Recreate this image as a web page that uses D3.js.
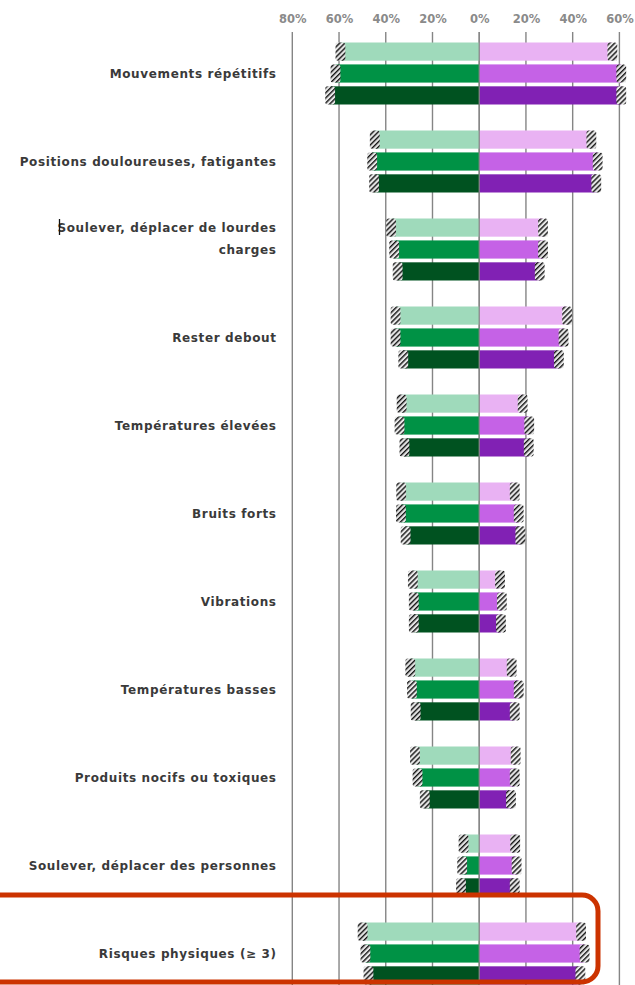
<!DOCTYPE html>
<html><head><meta charset="utf-8">
<script src="https://cdn.jsdelivr.net/npm/d3@7"></script>
<style>body{margin:0;background:#fff;}svg{display:block;}</style>
</head><body>
<svg id="c" width="635" height="985"></svg>
<script>
const categories = [
  ["Mouvements répétitifs"],
  ["Positions douloureuses, fatigantes"],
  ["Soulever, déplacer de lourdes", "charges"],
  ["Rester debout"],
  ["Températures élevées"],
  ["Bruits forts"],
  ["Vibrations"],
  ["Températures basses"],
  ["Produits nocifs ou toxiques"],
  ["Soulever, déplacer des personnes"],
  ["Risques physiques (≥ 3)"]
];
// left side (green) series, in %
const leftLight = [59.4, 44.7, 37.7, 35.8, 33.2, 33.4, 28.4, 29.5, 27.5, 6.7, 49.9];
const leftMid   = [61.5, 45.8, 36.4, 35.8, 34.1, 33.5, 28.0, 28.8, 26.4, 7.3, 48.7];
const leftDark  = [63.8, 45.0, 34.9, 32.5, 32.0, 31.5, 28.0, 27.2, 23.3, 7.8, 47.4];
// right side (purple) series, in %
const rightLight = [57.0, 48.0, 27.3, 37.6, 18.6, 15.2, 8.9, 13.9, 15.6, 15.4, 43.6];
const rightMid   = [60.8, 50.7, 27.3, 36.1, 21.4, 16.9, 9.7, 16.9, 15.2, 16.0, 45.1];
const rightDark  = [60.8, 50.1, 25.9, 34.1, 21.2, 17.6, 9.3, 15.2, 13.6, 15.2, 43.3];
const ciHalf = 2.1; // confidence margin, in %
const tickValues = [-80, -60, -40, -20, 0, 20, 40, 60];
const tickLabels = ["80%", "60%", "40%", "20%", "0%", "20%", "40%", "60%"];

const leftColors = ["#9fdabb", "#009245", "#005220"];
const rightColors = ["#e9b2f3", "#c562e6", "#8121b4"];

const svg = d3.select("#c");
const x = d3.scaleLinear().domain([-80, 60]).range([292.3, 619.4]);
const catKeys = categories.map((c, i) => i);
const y = d3.scaleBand().domain(catKeys).range([29, 29 + 88 * 11]).paddingInner(0);
const yi = d3.scaleBand().domain([0, 1, 2]).range([-30.5, 31.5]).paddingInner(0.17);

const defs = svg.append("defs");
const pat = defs.append("pattern").attr("id", "hatch").attr("patternUnits", "userSpaceOnUse")
  .attr("width", 3.6).attr("height", 3.6).attr("patternTransform", "rotate(45)");
pat.append("rect").attr("width", 3.6).attr("height", 3.6).attr("fill", "#e6e6e6");
pat.append("line").attr("x1", 0).attr("y1", 0).attr("x2", 0).attr("y2", 3.6)
  .attr("stroke", "#151515").attr("stroke-width", 2.8);

// grid
svg.append("g").selectAll("line").data(tickValues).join("line")
  .attr("x1", d => x(d)).attr("x2", d => x(d))
  .attr("y1", 32).attr("y2", 985)
  .attr("stroke", "#858585").attr("stroke-width", 1.4);

// axis labels
const axis = d3.axisTop(x).tickValues(tickValues).tickFormat((d, i) => tickLabels[i]).tickSize(0).tickPadding(0);
const ax = svg.append("g").attr("transform", "translate(0,23)").call(axis);
ax.select(".domain").remove();
ax.selectAll("text").attr("fill", "#8a8a8a").attr("font-family", "DejaVu Sans, sans-serif")
  .attr("font-size", 11.5).attr("font-weight", 600);

const left = [leftLight, leftMid, leftDark];
const right = [rightLight, rightMid, rightDark];

const bars = [];
left.forEach((s, k) => s.forEach((v, i) => bars.push({i, k, v: -v, c: leftColors[k]})));
right.forEach((s, k) => s.forEach((v, i) => bars.push({i, k, v: v, c: rightColors[k]})));

const g = svg.append("g");
g.selectAll("rect.bar").data(bars).join("rect").attr("class", "bar")
  .attr("x", d => Math.min(x(0), x(d.v)))
  .attr("width", d => Math.abs(x(d.v) - x(0)))
  .attr("y", d => y(d.i) + y.bandwidth() / 2 + yi(d.k))
  .attr("height", yi.bandwidth())
  .attr("fill", d => d.c);

g.selectAll("rect.ci").data(bars).join("rect").attr("class", "ci")
  .attr("x", d => x(d.v - ciHalf))
  .attr("width", d => x(d.v + ciHalf) - x(d.v - ciHalf))
  .attr("y", d => y(d.i) + y.bandwidth() / 2 + yi(d.k))
  .attr("height", yi.bandwidth())
  .attr("rx", 2.5)
  .attr("fill", "url(#hatch)");

// zero line
svg.append("line").attr("x1", x(0)).attr("x2", x(0)).attr("y1", 32).attr("y2", 985)
  .attr("stroke", "#858585").attr("stroke-width", 1.2);

// category labels
const lab = svg.append("g").attr("font-family", "DejaVu Sans, sans-serif").attr("font-size", 12)
  .attr("font-weight", 700).attr("fill", "#3a3a3a").attr("text-anchor", "end");
const texts = [];
categories.forEach((lines, i) => {
  const cy = y(i) + y.bandwidth() / 2;
  const n = lines.length;
  lines.forEach((t, j) => {
    texts.push(lab.append("text").attr("x", 276).attr("y", cy + (j - (n - 1)) * 22 + 4.5).text(t));
  });
});
// fit letter spacing so the longest label spans like the original
const ref = texts[1].node();
const w0 = ref.getComputedTextLength();
const ls = (257 - w0) / (categories[1][0].length);
lab.attr("letter-spacing", ls);
texts.forEach(t => t.attr("x", 276 + ls));

// text cursor artifact next to the wrapped label
svg.append("line").attr("x1", 59.5).attr("x2", 59.5).attr("y1", 219).attr("y2", 235)
  .attr("stroke", "#111").attr("stroke-width", 1.3);

// highlight box
svg.append("rect").attr("x", -20).attr("y", 895).attr("width", 618).attr("height", 87)
  .attr("rx", 16).attr("fill", "none").attr("stroke", "#cc3300").attr("stroke-width", 5);
</script>
</body></html>
